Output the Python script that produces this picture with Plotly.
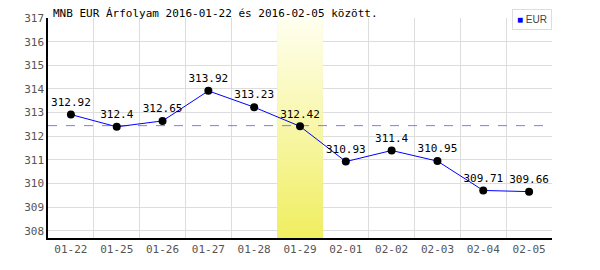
import plotly.graph_objects as go

dates = ["01-22", "01-25", "01-26", "01-27", "01-28", "01-29",
         "02-01", "02-02", "02-03", "02-04", "02-05"]
eur = [312.92, 312.4, 312.65, 313.92, 313.23, 312.42,
       310.93, 311.4, 310.95, 309.71, 309.66]
ref_level = 312.45
highlight = "01-29"
y_min, y_max = 307.7, 317.0

xs = list(range(len(dates)))
hi = dates.index(highlight)

fig = go.Figure()

# highlighted day band with vertical gradient
fig.add_trace(go.Scatter(
    x=[hi - 0.5, hi + 0.5, hi + 0.5, hi - 0.5, hi - 0.5],
    y=[y_min, y_min, y_max, y_max, y_min],
    fill="toself", mode="none", hoverinfo="skip", showlegend=False,
    fillgradient=dict(type="vertical",
                      colorscale=[[0, "#f0ee60"], [1, "#fffff0"]]),
))

# reference dashed line
fig.add_trace(go.Scatter(
    x=[-0.5, len(dates) - 0.5], y=[ref_level, ref_level], mode="lines",
    line=dict(color="#7b7bff", width=1, dash="dash"),
    hoverinfo="skip", showlegend=False,
))

fig.add_trace(go.Scatter(
    x=xs, y=eur, mode="lines+markers+text", name="EUR",
    line=dict(color="#0000ff", width=1),
    marker=dict(color="#000000", size=8),
    text=[f"{v:g}" for v in eur], textposition="top center",
    textfont=dict(family="DejaVu Sans Mono", size=11, color="#000"),
    showlegend=False,
))

# compact legend box (top right)
fig.add_annotation(
    xref="paper", yref="paper", x=1.0, y=1 + 9 / 220,
    xanchor="right", yanchor="top",
    text="<span style='color:#0000ff'>■</span> EUR",
    showarrow=False, bgcolor="white", bordercolor="#dddddd", borderwidth=1,
    borderpad=4, font=dict(family="Liberation Sans", size=10, color="#444"),
)

fig.update_layout(
    width=600, height=270,
    margin=dict(l=48, r=48, t=18, b=32, autoexpand=False),
    paper_bgcolor="white", plot_bgcolor="white",
    showlegend=False,
    title=dict(text="MNB EUR Árfolyam 2016-01-22 és 2016-02-05 között.",
               x=53 / 600, xanchor="left", y=1 - 13 / 270, yanchor="middle",
               font=dict(family="DejaVu Sans Mono", size=11, color="#000")),
    xaxis=dict(
        range=[-0.5, len(dates) - 0.5],
        tickvals=xs, ticktext=dates, showgrid=False, ticks="",
        tickfont=dict(family="DejaVu Sans Mono", size=11, color="#555"),
        showline=True, linecolor="#000", linewidth=1.5, zeroline=False,
        minor=dict(tickvals=[i - 0.5 for i in range(len(dates) + 1)],
                   showgrid=True, gridcolor="#dddddd", gridwidth=1, ticks=""),
    ),
    yaxis=dict(
        range=[y_min, y_max], dtick=1, tick0=308,
        showgrid=True, gridcolor="#dddddd", gridwidth=1, ticks="",
        tickfont=dict(family="DejaVu Sans Mono", size=11, color="#555"),
        showline=True, linecolor="#000", linewidth=1.5, zeroline=False,
    ),
)

fig.write_html("out.html")
